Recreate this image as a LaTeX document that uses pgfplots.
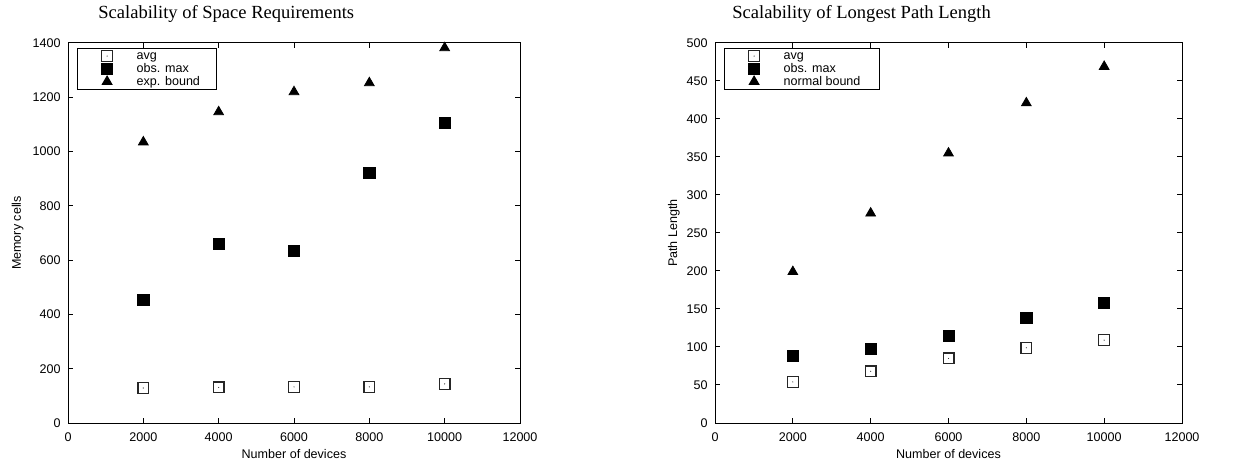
\documentclass[border=0pt]{standalone}
\usepackage{fontspec}
\setmainfont{Liberation Serif}
\setsansfont{Liberation Sans}
\usepackage{pgfplots}
\pgfplotsset{compat=1.18}

% open square with a dot in the middle (gnuplot style)
\pgfdeclareplotmark{sqdot}{%
  \pgfpathrectangle{\pgfpoint{-\pgfplotmarksize}{-\pgfplotmarksize}}%
    {\pgfpoint{2\pgfplotmarksize}{2\pgfplotmarksize}}%
  \pgfusepathqstroke
  \pgfpathcircle{\pgfpointorigin}{0.3bp}%
  \pgfusepathqfill
}

\newcommand{\gpfont}{\sffamily\fontsize{6.3}{7}\selectfont}

\pgfplotsset{
  gp/.style={
    scale only axis,
    height=190bp,
    xmin=0, xmax=12000,
    xtick={0,2000,...,12000},
    scaled x ticks=false,
    scaled y ticks=false,
    /pgf/number format/assume math mode=true,
    /pgf/number format/1000 sep={},
    axis line style={line width=0.5bp},
    every tick/.style={line width=0.5bp, black},
    major tick length=2.5bp,
    tick align=inside,
    tick label style={font=\gpfont},
    xticklabel style={inner sep=0pt, anchor=north, yshift=-4.5bp},
    yticklabel style={inner sep=0pt, anchor=east, xshift=-3.5bp},
    label style={font=\gpfont},
    xlabel style={inner sep=0pt, yshift=-3.8bp},
    xlabel={Number of devices},
    legend cell align=left,
    legend style={
      font=\gpfont, at={(0,1)}, anchor=north west,
      xshift=4.5bp, yshift=-2.5bp,
      draw=black, line width=0.5bp,
      inner xsep=0pt, inner ysep=0.6bp,
      row sep=0pt, column sep=0pt,
      nodes={inner sep=0pt, text height=4.9bp, text depth=1.5bp},
    },
    legend image code/.code={%
      \path (0bp,0bp) (29bp,0bp);
      \draw[##1] plot coordinates {(14.5bp,0bp)};
    },
    avg/.style={only marks, mark=sqdot, mark size=2.7bp, line width=0.6bp, black!85},
    obs/.style={only marks, mark=square*, mark size=2.8bp, black},
    bnd/.style={only marks, mark=triangle*, mark size=2.8bp, black},
  }
}

\begin{document}
\begin{tikzpicture}
\useasboundingbox (0,0) rectangle (619bp,230.5bp);

\node[anchor=base west, font=\fontsize{9.3}{11}\selectfont, inner sep=0pt]
  at (49bp,221bp) {Scalability of Space Requirements};
\node[anchor=base west, font=\fontsize{9.3}{11}\selectfont, inner sep=0pt]
  at (366bp,221bp) {Scalability of Longest Path Length};

% ---- left: memory cells
\begin{axis}[gp,
  at={(34bp,19bp)}, anchor=south west,
  width=226bp,
  ymin=0, ymax=1400, ytick={0,200,...,1400},
  ylabel={Memory cells},
  ylabel style={at={([xshift=-22bp]axis description cs:0,0.5)},
                anchor=south, inner sep=0pt},
]
\addplot[avg] coordinates {(2000,129) (4000,131) (6000,133) (8000,133) (10000,144)};
\addlegendentry{\makebox[40bp][l]{avg}}
\addplot[obs] coordinates {(2000,453) (4000,660) (6000,634) (8000,921) (10000,1105)};
\addlegendentry{\makebox[40bp][l]{obs. max}}
\addplot[bnd] coordinates {(2000,1035) (4000,1146) (6000,1220) (8000,1253) (10000,1382)};
\addlegendentry{\makebox[40bp][l]{exp. bound}}
\end{axis}

% ---- right: path length
\begin{axis}[gp,
  at={(357.5bp,19bp)}, anchor=south west,
  width=233.5bp,
  ymin=0, ymax=500, ytick={0,50,...,500},
  ylabel={Path Length},
  ylabel style={at={([xshift=-17.5bp]axis description cs:0,0.5)},
                anchor=south, inner sep=0pt},
]
\addplot[avg] coordinates {(2000,54) (4000,68) (6000,85) (8000,99) (10000,109)};
\addlegendentry{\makebox[48bp][l]{avg}}
\addplot[obs] coordinates {(2000,88) (4000,98) (6000,115) (8000,138) (10000,158)};
\addlegendentry{\makebox[48bp][l]{obs. max}}
\addplot[bnd] coordinates {(2000,199) (4000,276) (6000,355) (8000,421) (10000,469)};
\addlegendentry{\makebox[48bp][l]{normal bound}}
\end{axis}
\end{tikzpicture}
\end{document}
